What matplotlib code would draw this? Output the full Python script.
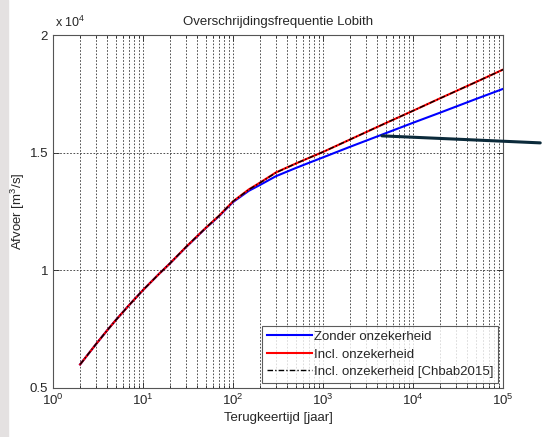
import numpy as np
import matplotlib
matplotlib.use("Agg")
import matplotlib.pyplot as plt
from matplotlib.patches import Rectangle
from matplotlib.ticker import FuncFormatter, LogLocator

plt.rcParams['font.family'] = ['Liberation Sans', 'DejaVu Sans']
plt.rcParams['mathtext.fontset'] = 'custom'
plt.rcParams['mathtext.rm'] = 'Liberation Sans'

# terugkeertijd [jaar]
terugkeertijd = [2, 3, 4, 5, 7, 10, 15, 20, 30, 50, 70, 100, 150, 200, 300, 500, 700,
                 1000, 2000, 5000, 1e4, 2e4, 5e4, 1e5]
# afvoer [m3/s]
zonder = [6000, 6860, 7450, 7890, 8520, 9160, 9840, 10300, 10980, 11800, 12300, 12900,
          13380, 13630, 14000, 14350, 14570, 14800, 15250, 15830, 16270, 16700, 17280, 17710]
incl = [6000, 6860, 7450, 7890, 8520, 9160, 9840, 10300, 10990, 11810, 12320, 12930,
        13440, 13730, 14160, 14540, 14780, 15030, 15560, 16260, 16780, 17310, 18000, 18530]
chbab = [6000, 6860, 7450, 7890, 8520, 9160, 9840, 10300, 10990, 11810, 12320, 12930,
         13430, 13720, 14150, 14540, 14780, 15030, 15560, 16260, 16780, 17310, 18000, 18530]

fig = plt.figure(figsize=(5.43, 4.37), dpi=100)
fig.patch.set_facecolor('white')
# grijze rand links (screenshot)
fig.patches.append(Rectangle((0, 0), 8 / 543, 1, transform=fig.transFigure,
                             color='#e4e1e1', zorder=-5))
ax = fig.add_axes([53 / 543, 49 / 437, 450 / 543, 353 / 437])

ax.plot(terugkeertijd, zonder, color='#0000ff', lw=1.5, label='Zonder onzekerheid')
ax.plot(terugkeertijd, incl, color='#ff0000', lw=1.5, label='Incl. onzekerheid')
ax.plot(terugkeertijd, chbab, color='black', lw=1.0, ls=(0, (4, 1.5, 1, 1.5)),
        label='Incl. onzekerheid [Chbab2015]')

ax.set_xscale('log')
ax.set_xlim(1, 1e5)
ax.set_ylim(5000, 20000)
ax.set_yticks([5000, 10000, 15000, 20000])
ax.yaxis.set_major_formatter(FuncFormatter(lambda v, p: '%g' % (v / 1e4)))
ax.xaxis.set_minor_locator(LogLocator(base=10, subs=np.arange(2, 10), numticks=20))

ax.tick_params(which='both', direction='in', top=True, right=True, labelsize=9.5,
               colors='#262626', width=0.6)
ax.tick_params(which='major', length=4)
ax.tick_params(which='minor', length=2.5)
for s in ax.spines.values():
    s.set_color('#555555')
    s.set_linewidth(0.8)

ax.grid(True, which='major', axis='both', color='#333333', ls=(0, (2, 2)), lw=0.6)
ax.grid(True, which='minor', axis='x', color='#333333', ls=(0, (2, 2)), lw=0.6)
ax.set_axisbelow(True)

ax.set_title('Overschrijdingsfrequentie Lobith', fontsize=9.5, color='#262626', pad=7)
ax.set_xlabel('Terugkeertijd [jaar]', fontsize=9.5, color='#262626', labelpad=3)
ax.set_ylabel('Afvoer [m$^3$/s]', fontsize=9.5, color='#262626')
ax.yaxis.set_label_coords(-0.058, 0.5)
ax.text(0.005, 1.015, 'x 10$^4$', transform=ax.transAxes, fontsize=9, color='#262626',
        ha='left', va='bottom')

leg = ax.legend(loc='lower right', fontsize=9.5, frameon=True, fancybox=False,
                borderaxespad=0.4, handlelength=3.4, handletextpad=0.15,
                labelspacing=0.4, borderpad=0.35)
leg.get_frame().set_edgecolor('#333333')
leg.get_frame().set_linewidth(0.8)
for t in leg.get_texts():
    t.set_color('#262626')

# aanwijslijn naar de blauwe lijn
t_pijl = 4200
q_pijl = np.interp(np.log10(t_pijl), np.log10(terugkeertijd), zonder)
ax.annotate('', xy=(t_pijl, q_pijl), xycoords='data',
            xytext=(1.0, 1 - 143 / 437), textcoords='figure fraction',
            arrowprops=dict(arrowstyle='-', color='#0b2a3a', lw=2.2),
            annotation_clip=False)

fig.savefig('out.png', dpi=100, facecolor=fig.get_facecolor())
